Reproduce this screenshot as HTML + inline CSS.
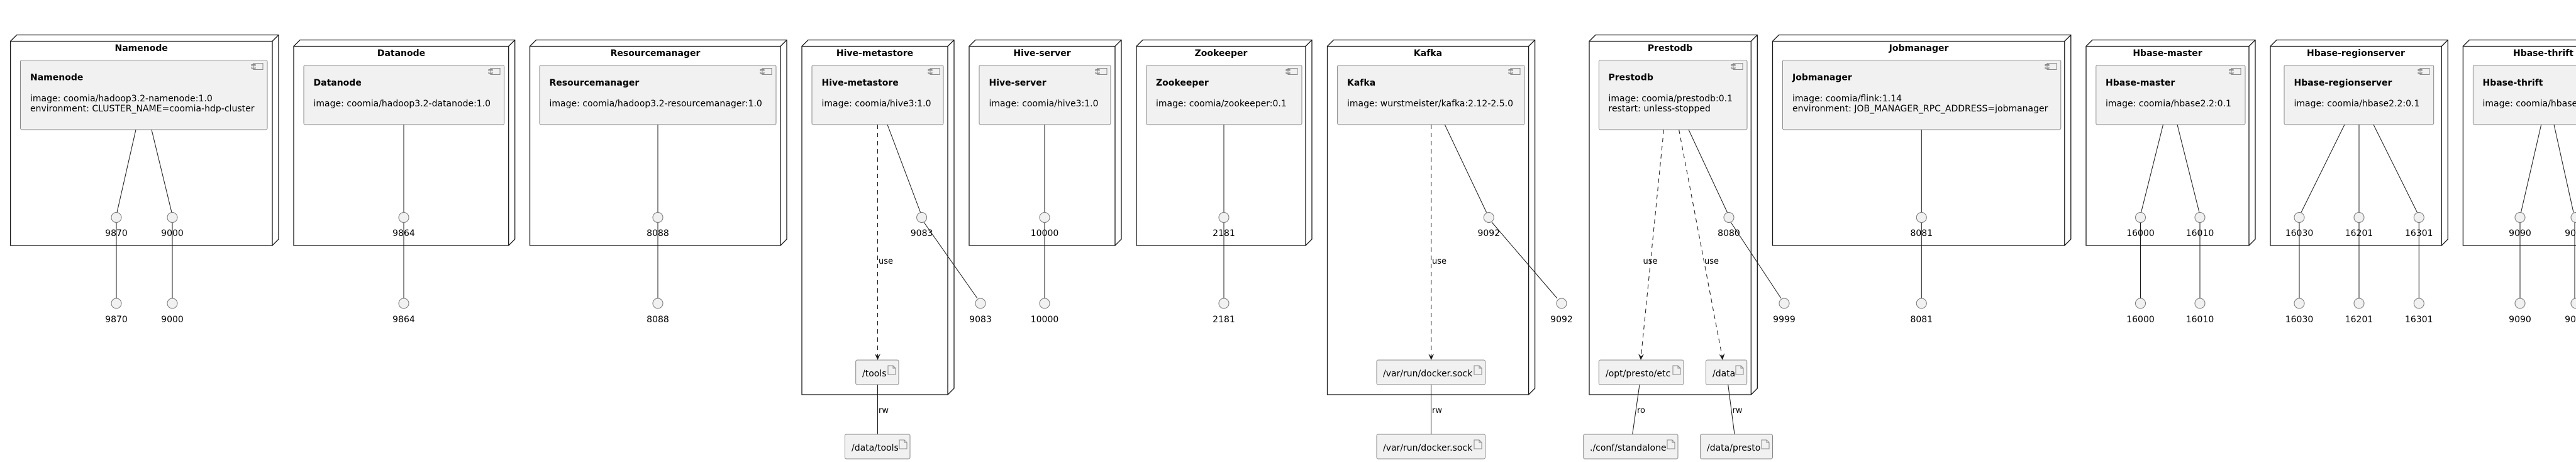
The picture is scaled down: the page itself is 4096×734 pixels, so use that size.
<!DOCTYPE html>
<html><head><meta charset="utf-8"><style>
html,body{margin:0;padding:0;background:#fff;}
svg{display:block;}
text{font-family:"DejaVu Sans","Liberation Sans",sans-serif;fill:#000;}
.nt{font-size:14px;font-weight:bold;text-anchor:middle;}
.ct{font-size:14px;font-weight:bold;}
.cx{font-size:14px;}
.pl{font-size:14px;text-anchor:middle;}
.lb{font-size:13px;}
.node{fill:#fff;stroke:#181818;stroke-width:1.3;}
.comp{fill:#f1f1f1;stroke:#888;stroke-width:1;}
.art{fill:#f1f1f1;stroke:#888;stroke-width:1;}
.port{fill:#f1f1f1;stroke:#777;stroke-width:1;}
.ln{stroke:#181818;stroke-width:1;fill:none;}
.ds{stroke:#181818;stroke-width:1;fill:none;stroke-dasharray:7,6;}
.ic{fill:none;stroke:#888;stroke-width:1;}
</style></head><body>
<svg width="4096" height="734" viewBox="0 0 4096 734" xmlns="http://www.w3.org/2000/svg">
<defs>
<g id="cicon"><rect class="ic" x="0" y="0" width="15" height="10"/><rect class="ic" x="-3" y="2" width="6" height="2" fill="#f1f1f1"/><rect class="ic" x="-3" y="6" width="6" height="2" fill="#f1f1f1"/></g>
<g id="aicon"><path class="ic" d="M0,0 h8 l4,4 v10 h-12 z M8,0 v4 h4"/></g>
</defs>

<!-- Nodes: front rect + 3D -->
<g>
<path class="node" d="M16.6,65.5 H433 V390 H16.6 Z M16.6,65.5 L26.6,55.5 H443 V380 L433,390 M433,65.5 L443,55.5"/>
<path class="node" d="M467,73.5 H808.7 V390 H467 Z M467,73.5 L477,63.5 H818.7 V380 L808.7,390 M808.7,73.5 L818.7,63.5"/>
<path class="node" d="M842.5,73.5 H1241 V390 H842.5 Z M842.5,73.5 L852.5,63.5 H1251 V380 L1241,390 M1241,73.5 L1251,63.5"/>
<path class="node" d="M1275,73.5 H1507 V627 H1275 Z M1275,73.5 L1285,63.5 H1517 V617 L1507,627 M1507,73.5 L1517,63.5"/>
<path class="node" d="M1541,73.5 H1773 V390 H1541 Z M1541,73.5 L1551,63.5 H1783 V380 L1773,390 M1773,73.5 L1783,63.5"/>
<path class="node" d="M1807,73.5 H2076 V390 H1807 Z M1807,73.5 L1817,63.5 H2086 V380 L2076,390 M2076,73.5 L2086,63.5"/>
<path class="node" d="M2110.5,73.5 H2430.6 V627 H2110.5 Z M2110.5,73.5 L2120.5,63.5 H2440.6 V617 L2430.6,627 M2430.6,73.5 L2440.6,63.5"/>
<path class="node" d="M2527,65.5 H2784.3 V627 H2527 Z M2527,65.5 L2537,55.5 H2794.3 V617 L2784.3,627 M2784.3,65.5 L2794.3,55.5"/>
<path class="node" d="M2818.5,65.5 H3282.8 V390 H2818.5 Z M2818.5,65.5 L2828.5,55.5 H3292.8 V380 L3282.8,390 M3282.8,65.5 L3292.8,55.5"/>
<path class="node" d="M3317,73.5 H3576 V390 H3317 Z M3317,73.5 L3327,63.5 H3586 V380 L3576,390 M3576,73.5 L3586,63.5"/>
<path class="node" d="M3610,73.5 H3882.3 V390 H3610 Z M3610,73.5 L3620,63.5 H3892.3 V380 L3882.3,390 M3882.3,73.5 L3892.3,63.5"/>
<path class="node" d="M3916.4,73.5 H4172 V390 H3916.4 Z M3916.4,73.5 L3926.4,63.5 H4182 V380 L4172,390"/>
</g>

<!-- Node titles -->
<text class="nt" x="224.7" y="81">Namenode</text>
<text class="nt" x="638" y="89">Datanode</text>
<text class="nt" x="1042" y="89">Resourcemanager</text>
<text class="nt" x="1391" y="89">Hive-metastore</text>
<text class="nt" x="1657" y="89">Hive-server</text>
<text class="nt" x="1941.5" y="89">Zookeeper</text>
<text class="nt" x="2270.5" y="89">Kafka</text>
<text class="nt" x="2655.6" y="81">Prestodb</text>
<text class="nt" x="3051" y="81">Jobmanager</text>
<text class="nt" x="3446.5" y="89">Hbase-master</text>
<text class="nt" x="3746" y="89">Hbase-regionserver</text>
<text class="nt" x="4044" y="89">Hbase-thrift</text>

<!-- Components -->
<rect class="comp" x="32.5" y="95.5" width="392.5" height="110.5" rx="2.5"/><use href="#cicon" x="403" y="100.5"/>
<text class="ct" x="48" y="127.5">Namenode</text><text class="cx" x="48" y="161">image: coomia/hadoop3.2-namenode:1.0</text><text class="cx" x="48" y="177">environment: CLUSTER_NAME=coomia-hdp-cluster</text>

<rect class="comp" x="483" y="103.5" width="318.7" height="94.5" rx="2.5"/><use href="#cicon" x="780" y="108.5"/>
<text class="ct" x="498.5" y="136">Datanode</text><text class="cx" x="498.5" y="169">image: coomia/hadoop3.2-datanode:1.0</text>

<rect class="comp" x="858" y="103.5" width="376" height="94.5" rx="2.5"/><use href="#cicon" x="1212" y="108.5"/>
<text class="ct" x="873.5" y="136">Resourcemanager</text><text class="cx" x="873.5" y="169">image: coomia/hadoop3.2-resourcemanager:1.0</text>

<rect class="comp" x="1291" y="103.5" width="209" height="94.5" rx="2.5"/><use href="#cicon" x="1479" y="108.5"/>
<text class="ct" x="1306.5" y="136">Hive-metastore</text><text class="cx" x="1306.5" y="169">image: coomia/hive3:1.0</text>

<rect class="comp" x="1557" y="103.5" width="209" height="94.5" rx="2.5"/><use href="#cicon" x="1745" y="108.5"/>
<text class="ct" x="1572.5" y="136">Hive-server</text><text class="cx" x="1572.5" y="169">image: coomia/hive3:1.0</text>

<rect class="comp" x="1822.7" y="103.5" width="247.3" height="94.5" rx="2.5"/><use href="#cicon" x="2048" y="108.5"/>
<text class="ct" x="1838" y="136">Zookeeper</text><text class="cx" x="1838" y="169">image: coomia/zookeeper:0.1</text>

<rect class="comp" x="2126.6" y="103.5" width="297.4" height="94.5" rx="2.5"/><use href="#cicon" x="2402" y="108.5"/>
<text class="ct" x="2142" y="136">Kafka</text><text class="cx" x="2142" y="169">image: wurstmeister/kafka:2.12-2.5.0</text>

<rect class="comp" x="2542.4" y="95.5" width="235.6" height="110.5" rx="2.5"/><use href="#cicon" x="2756" y="100.5"/>
<text class="ct" x="2557.5" y="127.5">Prestodb</text><text class="cx" x="2557.5" y="161">image: coomia/prestodb:0.1</text><text class="cx" x="2557.5" y="177">restart: unless-stopped</text>

<rect class="comp" x="2834.4" y="95.5" width="442.4" height="110.5" rx="2.5"/><use href="#cicon" x="3255" y="100.5"/>
<text class="ct" x="2850" y="127.5">Jobmanager</text><text class="cx" x="2850" y="161">image: coomia/flink:1.14</text><text class="cx" x="2850" y="177">environment: JOB_MANAGER_RPC_ADDRESS=jobmanager</text>

<rect class="comp" x="3332.8" y="103.5" width="237.2" height="94.5" rx="2.5"/><use href="#cicon" x="3548" y="108.5"/>
<text class="ct" x="3348" y="136">Hbase-master</text><text class="cx" x="3348" y="169">image: coomia/hbase2.2:0.1</text>

<rect class="comp" x="3632" y="103.5" width="237.7" height="94.5" rx="2.5"/><use href="#cicon" x="3848" y="108.5"/>
<text class="ct" x="3647.5" y="136">Hbase-regionserver</text><text class="cx" x="3647.5" y="169">image: coomia/hbase2.2:0.1</text>

<rect class="comp" x="3932.4" y="103.5" width="232" height="94.5" rx="2.5"/>
<text class="ct" x="3947.5" y="136">Hbase-thrift</text><text class="cx" x="3947.5" y="169">image: coomia/hbase2.2:0.1</text>

<!-- Lines: component to inner port -->
<g class="ln">
<line x1="216" y1="206" x2="186" y2="337.5"/><line x1="241" y1="206" x2="273" y2="337.5"/>
<line x1="642" y1="198" x2="642" y2="337.5"/>
<line x1="1046" y1="198" x2="1046" y2="337.5"/>
<line x1="1411" y1="198" x2="1463.6" y2="337.5"/>
<line x1="1661" y1="198" x2="1661" y2="337.5"/>
<line x1="1946" y1="198" x2="1946" y2="337.5"/>
<line x1="2297.3" y1="198" x2="2363.6" y2="337.5"/>
<line x1="2685" y1="206" x2="2746.5" y2="337.5"/>
<line x1="3055.3" y1="206" x2="3055.3" y2="337.5"/>
<line x1="3439.5" y1="198" x2="3404.5" y2="337.5"/><line x1="3462" y1="198" x2="3497" y2="337.5"/>
<line x1="3728" y1="198" x2="3659" y2="337.5"/><line x1="3751" y1="198" x2="3751" y2="337.5"/><line x1="3774" y1="198" x2="3843.5" y2="337.5"/>
<line x1="4040.7" y1="198" x2="4008.5" y2="337.5"/><line x1="4061" y1="198" x2="4092" y2="337.5"/>
<!-- inner to outer -->
<line x1="185" y1="353" x2="185" y2="474"/><line x1="274" y1="353" x2="274" y2="474"/>
<line x1="642" y1="353" x2="642" y2="474"/>
<line x1="1046" y1="353" x2="1046" y2="474"/>
<line x1="1469" y1="353" x2="1554" y2="474"/>
<line x1="1661" y1="353" x2="1661" y2="474"/>
<line x1="1946" y1="353" x2="1946" y2="474"/>
<line x1="2372" y1="353" x2="2476" y2="474"/>
<line x1="2752" y1="353" x2="2832" y2="474"/>
<line x1="3055.3" y1="353" x2="3055.3" y2="474"/>
<line x1="3403.5" y1="353" x2="3403.5" y2="474"/><line x1="3498" y1="353" x2="3498" y2="474"/>
<line x1="3656" y1="353" x2="3656" y2="474"/><line x1="3751" y1="353" x2="3751" y2="474"/><line x1="3846.3" y1="353" x2="3846.3" y2="474"/>
<line x1="4007" y1="353" x2="4007" y2="474"/><line x1="4094" y1="353" x2="4094" y2="474"/>
<!-- artifact links -->
<line x1="1395.5" y1="611" x2="1395.5" y2="690"/>
<line x1="2275.5" y1="611" x2="2275.5" y2="690"/>
<line x1="2607" y1="611" x2="2595.7" y2="690"/>
<line x1="2747.7" y1="611" x2="2758" y2="690"/>
</g>

<!-- Dashed use arrows -->
<g class="ds">
<line x1="1395.5" y1="198" x2="1395.5" y2="570"/>
<line x1="2275.7" y1="198" x2="2275.7" y2="570"/>
<line x1="2645.5" y1="206" x2="2609" y2="570"/>
<line x1="2669.6" y1="206" x2="2739" y2="570"/>
</g>
<g fill="#181818">
<polygon points="1395.5,572 1391,562 1395.5,566 1400,562"/>
<polygon points="2275.7,572 2271.2,562 2275.7,566 2280.2,562"/>
<polygon points="2609,572 2605,562 2609.4,566 2614,562.5"/>
<polygon points="2739,572 2733.5,562.8 2738.2,566 2742.5,561.2"/>
</g>
<text class="lb" x="1397" y="419">use</text>
<text class="lb" x="2277" y="419">use</text>
<text class="lb" x="2612.5" y="419">use</text>
<text class="lb" x="2710" y="419">use</text>
<text class="lb" x="1397" y="656">rw</text>
<text class="lb" x="2277" y="656">rw</text>
<text class="lb" x="2603" y="656">ro</text>
<text class="lb" x="2754.5" y="656">rw</text>

<!-- Artifacts -->
<rect class="art" x="1360.7" y="572" width="68.3" height="39" rx="2.5"/><use href="#aicon" x="1412" y="581"/><text class="cx" x="1371" y="598">/tools</text>
<rect class="art" x="1343.5" y="690" width="103.5" height="39" rx="2.5"/><use href="#aicon" x="1430" y="699"/><text class="cx" x="1354" y="716">/data/tools</text>
<rect class="art" x="2189" y="572" width="172.6" height="39" rx="2.5"/><use href="#aicon" x="2344" y="581"/><text class="cx" x="2199" y="598">/var/run/docker.sock</text>
<rect class="art" x="2189" y="690" width="172.6" height="39" rx="2.5"/><use href="#aicon" x="2344" y="699"/><text class="cx" x="2199" y="716">/var/run/docker.sock</text>
<rect class="art" x="2542.3" y="572" width="134.7" height="39" rx="2.5"/><use href="#aicon" x="2660" y="581"/><text class="cx" x="2553" y="598">/opt/presto/etc</text>
<rect class="art" x="2712.5" y="572" width="65.2" height="39" rx="2.5"/><use href="#aicon" x="2760" y="581"/><text class="cx" x="2723" y="598">/data</text>
<rect class="art" x="2517.7" y="690" width="150.3" height="39" rx="2.5"/><use href="#aicon" x="2651" y="699"/><text class="cx" x="2528" y="716">./conf/standalone</text>
<rect class="art" x="2703.5" y="690" width="115" height="39" rx="2.5"/><use href="#aicon" x="2801" y="699"/><text class="cx" x="2714" y="716">/data/presto</text>

<!-- Ports -->
<g class="port">
<circle cx="185" cy="345.5" r="8"/><circle cx="274" cy="345.5" r="8"/><circle cx="185" cy="482" r="8"/><circle cx="274" cy="482" r="8"/>
<circle cx="642" cy="345.5" r="8"/><circle cx="642" cy="482" r="8"/>
<circle cx="1046" cy="345.5" r="8"/><circle cx="1046" cy="482" r="8"/>
<circle cx="1465.6" cy="345.5" r="8"/><circle cx="1559" cy="482" r="8"/>
<circle cx="1661" cy="345.5" r="8"/><circle cx="1661" cy="482" r="8"/>
<circle cx="1946" cy="345.5" r="8"/><circle cx="1946" cy="482" r="8"/>
<circle cx="2367.3" cy="345.5" r="8"/><circle cx="2483" cy="482" r="8"/>
<circle cx="2749" cy="345.5" r="8"/><circle cx="2837" cy="482" r="8"/>
<circle cx="3055.3" cy="345.5" r="8"/><circle cx="3055.3" cy="482" r="8"/>
<circle cx="3403.5" cy="345.5" r="8"/><circle cx="3498" cy="345.5" r="8"/><circle cx="3403.5" cy="482" r="8"/><circle cx="3498" cy="482" r="8"/>
<circle cx="3656" cy="345.5" r="8"/><circle cx="3751" cy="345.5" r="8"/><circle cx="3846.3" cy="345.5" r="8"/>
<circle cx="3656" cy="482" r="8"/><circle cx="3751" cy="482" r="8"/><circle cx="3846.3" cy="482" r="8"/>
<circle cx="4007" cy="345.5" r="8"/><circle cx="4096" cy="345.5" r="8"/><circle cx="4007" cy="482" r="8"/><circle cx="4096" cy="482" r="8"/>
</g>
<g>
<text class="pl" x="185" y="375">9870</text><text class="pl" x="274" y="375">9000</text><text class="pl" x="185" y="512">9870</text><text class="pl" x="274" y="512">9000</text>
<text class="pl" x="642" y="375">9864</text><text class="pl" x="642" y="512">9864</text>
<text class="pl" x="1046" y="375">8088</text><text class="pl" x="1046" y="512">8088</text>
<text class="pl" x="1465.6" y="375">9083</text><text class="pl" x="1559" y="512">9083</text>
<text class="pl" x="1661" y="375">10000</text><text class="pl" x="1661" y="512">10000</text>
<text class="pl" x="1946" y="375">2181</text><text class="pl" x="1946" y="512">2181</text>
<text class="pl" x="2367.3" y="375">9092</text><text class="pl" x="2483" y="512">9092</text>
<text class="pl" x="2749" y="375">8080</text><text class="pl" x="2837" y="512">9999</text>
<text class="pl" x="3055.3" y="375">8081</text><text class="pl" x="3055.3" y="512">8081</text>
<text class="pl" x="3403.5" y="375">16000</text><text class="pl" x="3498" y="375">16010</text><text class="pl" x="3403.5" y="512">16000</text><text class="pl" x="3498" y="512">16010</text>
<text class="pl" x="3656" y="375">16030</text><text class="pl" x="3751" y="375">16201</text><text class="pl" x="3846.3" y="375">16301</text>
<text class="pl" x="3656" y="512">16030</text><text class="pl" x="3751" y="512">16201</text><text class="pl" x="3846.3" y="512">16301</text>
<text class="pl" x="4007" y="375">9090</text><text class="pl" x="4096" y="375">9095</text><text class="pl" x="4007" y="512">9090</text><text class="pl" x="4096" y="512">9095</text>
</g>
</svg>
</body></html>
